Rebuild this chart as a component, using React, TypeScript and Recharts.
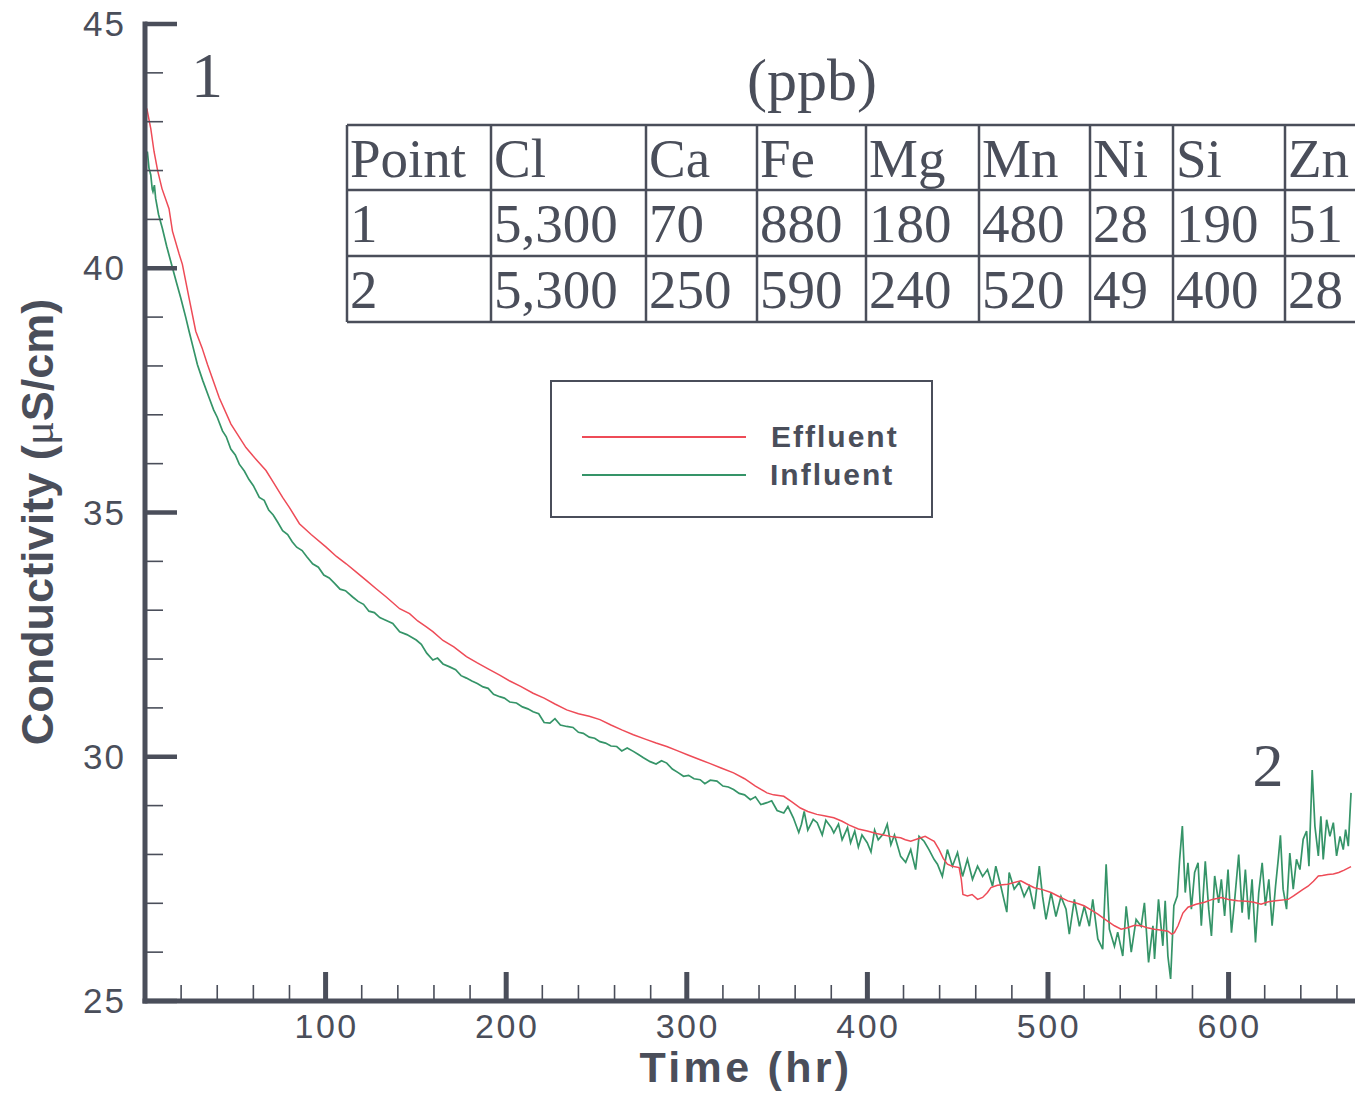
import React from 'react';
import { LineChart, Line, XAxis, YAxis, Legend } from 'recharts';

// ---------- data ----------
const effluentHours = [
  1.0, 3.2, 5.0, 7.0, 9.4, 13.3, 15.2, 18.9, 20.7, 24.4, 28.1, 31.6, 34.6, 41.1, 47.6, 55.9, 60, 67.0, 71, 76.2,
  80, 85.5, 92, 100.3, 106, 111.4, 117, 122.5, 128, 133.6, 141.0, 146.5, 151, 155.8, 159.4, 165, 171, 178.0, 184, 190,
  196.4, 202, 208, 214.9, 221, 227, 233.5, 240, 246, 251.9, 258, 264, 270.4, 277, 283, 288.9, 295, 301, 307.4, 313,
  319, 325.9, 332, 338, 344.4, 348, 353.7, 358, 362.9, 367, 372, 376, 381.4, 386, 390, 395, 399.9, 405, 409, 414,
  418.4, 421, 424, 428, 432, 435, 437, 439.7, 442, 444.3, 447, 450.8, 452, 452.9, 455.4, 458, 461, 463.8, 466.5, 468.4,
  472, 477.7, 485, 488, 492.4, 497, 501.7, 506, 511, 516, 520, 524, 527.6, 532, 536.8, 540.5, 544, 548, 551.6, 555,
  559, 563, 566.4, 568.5, 570, 572, 574.7, 577.5, 582, 586.7, 591, 596, 600, 605, 610, 614, 618, 622, 626, 633,
  636, 638.6, 641, 644, 647, 649.7, 652, 655, 658, 661, 664, 667.8,
];
const effluentValues = [
  43.27, 42.86, 42.39, 42.0, 41.63, 41.22, 40.76, 40.29, 40.08, 39.39, 38.71, 38.37, 38.03, 37.35, 36.81, 36.33, 36.15, 35.86, 35.62, 35.31,
  35.1, 34.77, 34.55, 34.29, 34.1, 33.95, 33.78, 33.61, 33.44, 33.27, 33.03, 32.93, 32.78, 32.66, 32.56, 32.38, 32.25, 32.05, 31.92, 31.8,
  31.67, 31.55, 31.44, 31.3, 31.2, 31.08, 30.96, 30.88, 30.83, 30.76, 30.65, 30.55, 30.45, 30.36, 30.28, 30.21, 30.12, 30.03, 29.94, 29.86,
  29.77, 29.67, 29.55, 29.4, 29.26, 29.22, 29.19, 29.08, 28.95, 28.88, 28.82, 28.79, 28.75, 28.68, 28.6, 28.52, 28.48, 28.43, 28.4, 28.36,
  28.34, 28.3, 28.27, 28.32, 28.37, 28.31, 28.27, 28.1, 27.92, 27.8, 27.76, 27.73, 27.49, 27.18, 27.15, 27.18, 27.08, 27.12, 27.22, 27.32,
  27.37, 27.39, 27.46, 27.4, 27.32, 27.28, 27.22, 27.14, 27.05, 27.0, 26.95, 26.86, 26.78, 26.66, 26.54, 26.47, 26.5, 26.55, 26.54, 26.5,
  26.47, 26.45, 26.43, 26.37, 26.4, 26.54, 26.8, 26.92, 26.98, 27.02, 27.08, 27.12, 27.08, 27.05, 27.04, 27.02, 26.98, 27.03, 27.05, 27.08,
  27.15, 27.22, 27.28, 27.35, 27.45, 27.56, 27.57, 27.59, 27.6, 27.63, 27.68, 27.75,
];

const influentHours = [
  1.3, 2.2, 3.2, 4.0, 4.4, 5.2, 5.9, 7.5, 9.6, 12, 15.2, 17.5, 19.8, 22.6, 24.4, 26.5, 29.0, 32, 35.5, 38,
  40, 42.9, 45, 47.5, 50, 52.2, 55, 57.5, 60, 63.3, 66, 68.5, 71, 73.5, 76.2, 79, 81.5, 84, 87, 89.5,
  92.8, 96, 99, 102, 105, 108, 111, 115.0, 118, 121, 124, 127, 130, 133, 137.2, 141.0, 145, 150.2, 153, 156,
  159.4, 162, 165, 168.7, 172, 175, 178.0, 181, 184, 187.2, 190, 193, 196.4, 199, 202, 205.7, 209, 212, 214.9, 218,
  221, 224.2, 227, 230, 233.5, 237, 240, 242.7, 246, 249, 251.9, 255, 258, 261.2, 264, 267, 270.4, 273, 276, 279.7,
  283, 286, 288.9, 292, 295, 298.2, 301, 304, 307.4, 310, 313, 316.7, 320, 323, 325.9, 329, 332, 335.2, 338, 341,
  344.4, 347, 350, 353.7, 356, 359, 362, 363.5, 365, 367, 370, 372.2, 375, 377, 380, 381.4, 384, 386, 389, 390.7,
  393, 395, 397, 399.9, 402, 404, 406, 409.2, 411, 413, 415, 418.4, 421.2, 424.0, 426.7, 428.6, 431.4, 434.1, 436.9, 438.8,
  441.5, 444.3, 447.1, 449.9, 452.7, 455.4, 458.2, 461.0, 463.8, 466.5, 469.3, 471.1, 473.9, 477.2, 478.5, 481.3, 484.1, 486.8, 489.6, 492.4,
  495.2, 497.0, 498.9, 501.7, 504.4, 507.2, 510.0, 511.8, 514.6, 517.4, 520.1, 522.9, 524.8, 527.6, 530.3, 532.2, 534.0, 536.8, 538.6, 541.4,
  543.3, 546.1, 548.8, 551.6, 553.4, 555.7, 558.1, 559.0, 561.2, 563.6, 564.9, 566.4, 567.9, 569.7, 571.6, 572.9, 574.4, 576.0, 577.5, 579.4,
  581.2, 583.1, 584.9, 587.1, 589.0, 590.5, 592.3, 594.5, 596.0, 597.8, 599.7, 601.6, 603.4, 605.6, 607.5, 609.3, 611.2, 613.0, 614.9, 616.7,
  618.6, 620.4, 622.3, 624.1, 626.0, 627.5, 628.7, 630.2, 632.1, 633.9, 635.8, 637.6, 639.5, 641.3, 643.2, 644.5, 646.3, 647.8, 649.7, 651.1,
  652.4, 654.3, 656.1, 658.0, 659.8, 661.7, 663.5, 664.8, 666.3, 667.8,
];
const influentValues = [
  42.39, 42.05, 41.91, 41.62, 41.57, 41.7, 41.43, 41.1, 40.82, 40.45, 40.01, 39.7, 39.39, 38.99, 38.71, 38.4, 38.03, 37.7, 37.35, 37.1,
  36.95, 36.67, 36.55, 36.3, 36.18, 35.99, 35.85, 35.68, 35.55, 35.31, 35.25, 35.05, 34.95, 34.8, 34.63, 34.55, 34.4, 34.29, 34.22, 34.1,
  33.95, 33.88, 33.72, 33.66, 33.55, 33.43, 33.4, 33.27, 33.18, 33.12, 32.98, 32.95, 32.85, 32.8, 32.73, 32.56, 32.5, 32.39, 32.3, 32.12,
  31.98, 32.02, 31.9, 31.84, 31.78, 31.66, 31.61, 31.55, 31.5, 31.43, 31.4, 31.28, 31.23, 31.2, 31.12, 31.1, 31.02, 30.98, 30.92, 30.88,
  30.7, 30.69, 30.78, 30.65, 30.62, 30.6, 30.5, 30.48, 30.4, 30.38, 30.31, 30.28, 30.22, 30.21, 30.12, 30.18, 30.11, 30.05, 29.98, 29.9,
  29.85, 29.92, 29.87, 29.75, 29.68, 29.6, 29.62, 29.55, 29.53, 29.45, 29.52, 29.5, 29.4, 29.38, 29.33, 29.25, 29.22, 29.12, 29.18, 29.02,
  29.06, 29.1, 28.9, 28.85, 28.98, 28.75, 28.45, 28.62, 28.88, 28.5, 28.72, 28.65, 28.4, 28.7, 28.55, 28.44, 28.62, 28.3, 28.55, 28.24,
  28.48, 28.15, 28.4, 28.24, 28.05, 28.5, 28.3, 28.44, 28.62, 28.2, 28.4, 27.96, 27.84, 28.1, 27.69, 28.37, 28.27, 28.1, 27.9, 27.8,
  27.55, 28.1, 27.76, 28.04, 27.55, 27.9, 27.49, 27.76, 27.55, 27.69, 27.35, 27.76, 27.35, 26.82, 27.63, 27.29, 27.43, 27.14, 27.35, 26.88,
  27.76, 27.14, 26.67, 27.22, 26.73, 27.14, 26.88, 26.37, 27.08, 26.53, 26.94, 26.53, 27.08, 26.27, 26.06, 27.8, 26.47, 26.12, 26.41, 25.92,
  26.94, 26.0, 26.67, 26.53, 27.01, 25.79, 26.54, 25.86, 27.08, 26.13, 27.05, 25.92, 25.45, 26.95, 27.15, 27.9, 28.58, 27.22, 27.83, 26.88,
  27.63, 27.83, 26.54, 27.86, 26.88, 26.33, 27.56, 27.01, 27.49, 26.74, 27.69, 26.4, 27.08, 28.0, 26.81, 27.69, 26.67, 27.49, 26.2, 27.22,
  27.83, 26.95, 27.49, 26.54, 27.35, 27.9, 28.39, 27.29, 26.88, 28.03, 27.29, 27.9, 27.69, 28.31, 28.48, 27.76, 29.73, 28.58, 27.97, 28.78,
  27.9, 28.71, 28.37, 28.65, 27.97, 28.37, 28.1, 28.51, 28.17, 29.26,
];

const xTicks = [20, 40, 60, 80, 100, 120, 140, 160, 180, 200, 220, 240, 260, 280, 300, 320, 340, 360, 380, 400,
  420, 440, 460, 480, 500, 520, 540, 560, 580, 600, 620, 640, 660];
const yTicks = [25, 26, 27, 28, 29, 30, 31, 32, 33, 34, 35, 36, 37, 38, 39, 40, 41, 42, 43, 44, 45];

const tableHeader = ['Point', 'Cl', 'Ca', 'Fe', 'Mg', 'Mn', 'Ni', 'Si', 'Zn'];
const tableRow1 = ['1', '5,300', '70', '880', '180', '480', '28', '190', '51'];
const tableRow2 = ['2', '5,300', '250', '590', '240', '520', '49', '400', '28'];

const seriesNames = ['Effluent', 'Influent'];

const effluentData = effluentHours.map((t, i) => ({ t, v: effluentValues[i] }));
const influentData = influentHours.map((t, i) => ({ t, v: influentValues[i] }));

// ---------- style ----------
const DARK = '#4a4e5a';
const RED = '#ee4b57';
const GREEN = '#359468';
const SANS = '"Liberation Sans", Arial, sans-serif';
const SERIF = '"Liberation Serif", "Times New Roman", serif';

const YTick = (props: any) => {
  const { x, y, payload } = props;
  const v = payload.value;
  const major = v % 5 === 0;
  return (
    <g>
      {major ? (
        <line x1={x} x2={x + 32} y1={y} y2={y} stroke={DARK} strokeWidth={4.5} />
      ) : (
        <line x1={x} x2={x + 18} y1={y} y2={y} stroke={DARK} strokeWidth={1.6} />
      )}
      {major && (
        <text x={x - 19} y={y} dy={12} textAnchor="end" fill={DARK} fontFamily={SANS} fontSize={35} letterSpacing={2}>
          {v}
        </text>
      )}
    </g>
  );
};

const XTick = (props: any) => {
  const { x, y, payload } = props;
  const v = payload.value;
  const major = v % 100 === 0;
  return (
    <g>
      {major ? (
        <line x1={x} x2={x} y1={y} y2={y - 29} stroke={DARK} strokeWidth={5} />
      ) : (
        <line x1={x} x2={x} y1={y} y2={y - 16} stroke={DARK} strokeWidth={1.6} />
      )}
      {major && (
        <text x={x + 1} y={y + 37} textAnchor="middle" fill={DARK} fontFamily={SANS} fontSize={34} letterSpacing={2.5}>
          {v}
        </text>
      )}
    </g>
  );
};

const LegendBox = (props: any) => {
  const payload = props.payload || [];
  const colors = [RED, GREEN];
  return (
    <svg width={384} height={139} style={{ display: 'block' }}>
      <rect x={1} y={1} width={381} height={136} fill="#ffffff" stroke={DARK} strokeWidth={2} />
      {seriesNames.map((name, i) => {
        const entry = payload.find((p: any) => p.value === name);
        const color = entry ? entry.color : colors[i];
        const ly = 57 + i * 38;
        return (
          <g key={name}>
            <line x1={32} x2={196} y1={ly} y2={ly} stroke={color} strokeWidth={1.8} />
            <text x={221 - i} y={ly + 10} fill={DARK} fontFamily={SANS} fontWeight="bold" fontSize={30} letterSpacing={2}>
              {name}
            </text>
          </g>
        );
      })}
    </svg>
  );
};

const colX = [347, 491, 646, 757, 866, 979, 1090, 1173, 1285];
const rowY = [125, 190, 256, 322];

const Overlay = () => (
  <svg width={1355} height={1094} style={{ position: 'absolute', left: 0, top: 0, pointerEvents: 'none' }}>
    <text x={207} y={97} textAnchor="middle" fill={DARK} fontFamily={SERIF} fontSize={64}>1</text>
    <text x={1268} y={786} textAnchor="middle" fill={DARK} fontFamily={SERIF} fontSize={62}>2</text>
    <text x={812} y={100} textAnchor="middle" fill={DARK} fontFamily={SERIF} fontSize={60}>(ppb)</text>
    <g stroke={DARK} strokeWidth={2.5}>
      {rowY.map((y) => (
        <line key={'r' + y} x1={colX[0]} x2={1360} y1={y} y2={y} />
      ))}
      {colX.map((x) => (
        <line key={'c' + x} x1={x} x2={x} y1={rowY[0]} y2={rowY[3]} />
      ))}
    </g>
    {[tableHeader, tableRow1, tableRow2].map((row, r) => (
      <g key={'row' + r}>
        {row.map((cell, c) => (
          <text key={c} x={colX[c] + 3} y={rowY[r] + 52} fill={DARK} fontFamily={SERIF} fontSize={55}>
            {cell}
          </text>
        ))}
      </g>
    ))}
    <text x={746} y={1082} textAnchor="middle" fill={DARK} fontFamily={SANS} fontWeight="bold" fontSize={43} letterSpacing={3.3}>
      Time (hr)
    </text>
    <text transform="translate(53, 522) rotate(-90)" textAnchor="middle" fill={DARK} fontFamily={SANS} fontWeight="bold" fontSize={45}>
      Conductivity (<tspan fontFamily={SERIF} fontWeight="normal">μ</tspan>S/cm)
    </text>
  </svg>
);

export default function App() {
  return (
    <div style={{ position: 'absolute', left: 0, top: 0, width: 1355, height: 1094, background: '#ffffff' }}>
      <LineChart width={1355} height={1094} margin={{ top: 24, right: 0, bottom: 92, left: 144 }}>
        <XAxis
          type="number"
          dataKey="t"
          domain={[0, 670]}
          ticks={xTicks}
          interval={0}
          height={1}
          tickSize={0}
          tickMargin={0}
          tickLine={false}
          axisLine={{ stroke: DARK, strokeWidth: 5, strokeLinecap: 'square' }}
          tick={<XTick />}
        />
        <YAxis
          type="number"
          dataKey="v"
          domain={[25, 45]}
          ticks={yTicks}
          interval={0}
          width={1}
          tickSize={0}
          tickMargin={0}
          tickLine={false}
          axisLine={{ stroke: DARK, strokeWidth: 5, strokeLinecap: 'square' }}
          tick={<YTick />}
        />
        <Legend
          layout="horizontal"
          verticalAlign="middle"
          align="center"
          content={<LegendBox />}
          wrapperStyle={{ position: 'absolute', left: 550, top: 380, width: 384, height: 139 }}
        />
        <Line
          name={seriesNames[1]}
          data={influentData}
          dataKey="v"
          type="linear"
          stroke={GREEN}
          strokeWidth={1.7}
          dot={false}
          isAnimationActive={false}
        />
        <Line
          name={seriesNames[0]}
          data={effluentData}
          dataKey="v"
          type="linear"
          stroke={RED}
          strokeWidth={1.5}
          dot={false}
          isAnimationActive={false}
        />
      </LineChart>
      <Overlay />
    </div>
  );
}
